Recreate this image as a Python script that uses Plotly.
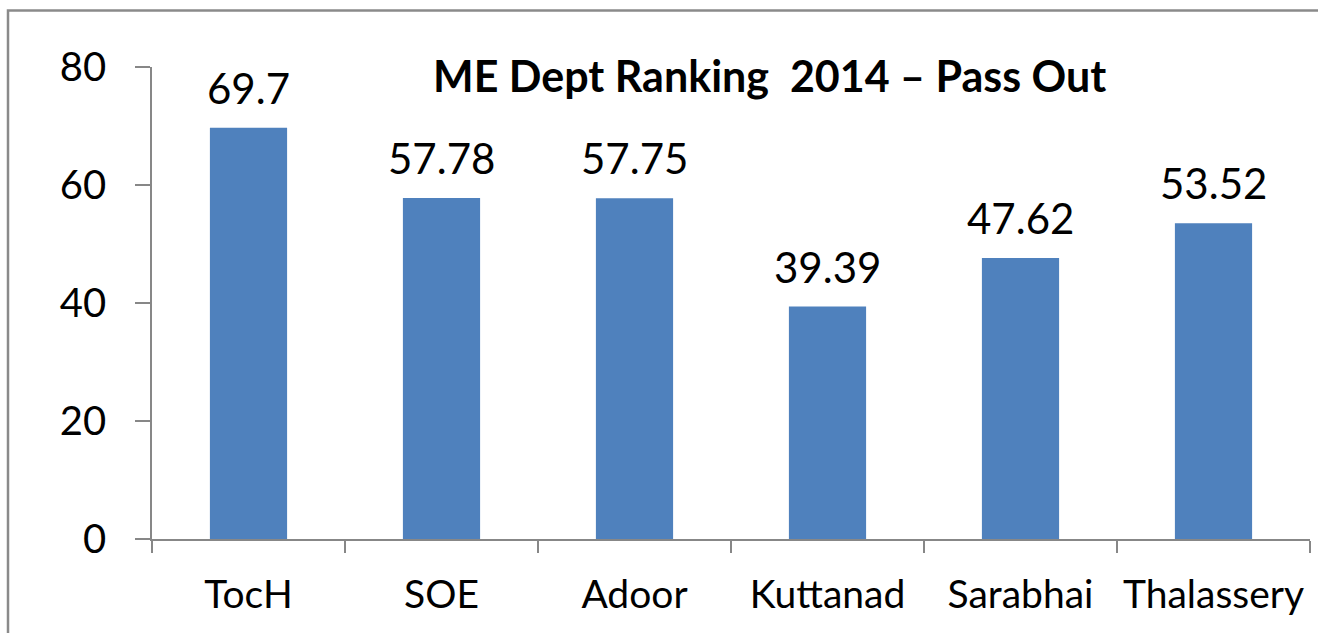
import plotly.graph_objects as go

categories = ["TocH", "SOE", "Adoor", "Kuttanad", "Sarabhai", "Thalassery"]
values = [69.7, 57.78, 57.75, 39.39, 47.62, 53.52]
value_labels = ["69.7", "57.78", "57.75", "39.39", "47.62", "53.52"]
y_ticks = [0, 20, 40, 60, 80]
title_text = "ME Dept Ranking  2014 \u2013 Pass Out"

W, H = 1318, 633
L, R, T, B = 152, 8, 66.5, 93.5
pw, ph = W - L - R, H - T - B

FONT = "Lato"
AX = "#878787"

fig = go.Figure()
fig.add_trace(go.Bar(x=categories, y=values, marker=dict(color="#4F81BD", line=dict(width=0)),
                     width=0.4, showlegend=False, hoverinfo="x+y"))

for c, v, t in zip(categories, values, value_labels):
    fig.add_annotation(x=c, y=v, text=t, showarrow=False, yanchor="bottom", yshift=13,
                       font=dict(family=FONT, size=42, color="#000000"))

fig.add_annotation(xref="paper", yref="paper", x=(769 - L) / pw, y=1 + (T - 75) / ph,
                   text="<b>" + title_text + "</b>", showarrow=False, xanchor="center", yanchor="middle",
                   font=dict(family=FONT, size=43, color="#000000"))

# outer chart border (cropped on right/bottom)
fig.add_shape(type="rect", xref="paper", yref="paper",
              x0=(8 - L) / pw, x1=(1340 - L) / pw, y0=1 - (660 - T) / ph, y1=1 + (T - 10) / ph,
              line=dict(color="#8a8a8a", width=2.5), fillcolor="rgba(0,0,0,0)", layer="below")

fig.update_layout(
    width=W, height=H, margin=dict(l=L, r=R, t=T, b=B, autoexpand=False),
    paper_bgcolor="white", plot_bgcolor="white",
    font=dict(family=FONT, color="#000000"),
    bargap=0.6,
    xaxis=dict(showline=True, linecolor=AX, linewidth=1.5, ticks="outside", tickson="boundaries",
               ticklen=12, tickwidth=1.5, tickcolor=AX, showgrid=False, zeroline=False,
               tickfont=dict(family=FONT, size=39), ticklabelstandoff=20),
    yaxis=dict(range=[0, 80], tickvals=y_ticks, showline=True, linecolor=AX, linewidth=1.5,
               ticks="outside", ticklen=15, tickwidth=1.5, tickcolor=AX, showgrid=False,
               zeroline=False, tickfont=dict(family=FONT, size=40), ticklabelstandoff=21),
)

fig.write_html("out.html")
